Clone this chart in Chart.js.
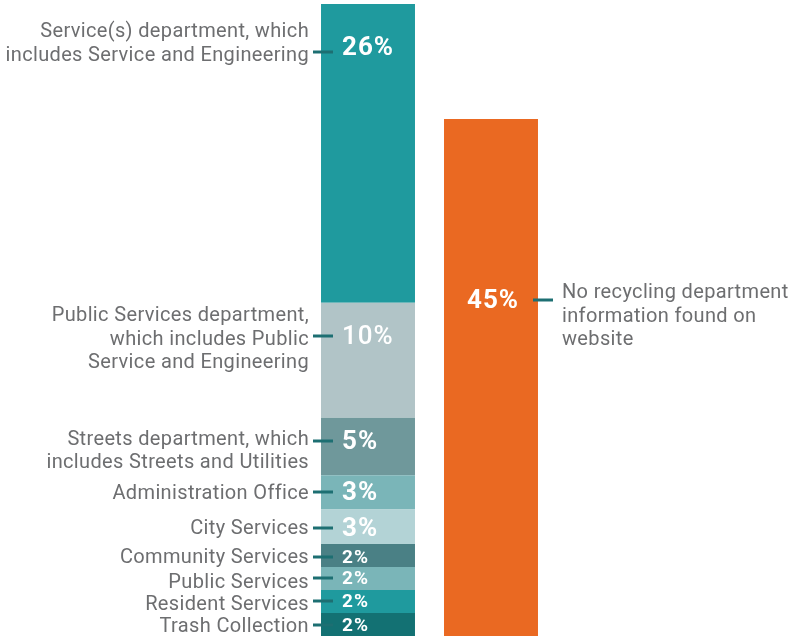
<!DOCTYPE html>
<html>
<head>
<meta charset="utf-8">
<script src="https://cdn.jsdelivr.net/npm/chart.js@4"></script>
<style>
  html, body { margin: 0; padding: 0; background: #fff; }
  #deptChart { display: block; }
</style>
</head>
<body>
<canvas id="deptChart" width="790" height="638"></canvas>
<script>
// Department names, bottom segment first (each entry is a list of text lines)
const departments = [
  ["Trash Collection"],
  ["Resident Services"],
  ["Public Services"],
  ["Community Services"],
  ["City Services"],
  ["Administration Office"],
  ["Streets department, which", "includes Streets and Utilities"],
  ["Public Services department,", "which includes Public", "Service and Engineering"],
  ["Service(s) department, which", "includes Service and Engineering"]
];
const departmentShares = [2, 2, 2, 2, 3, 3, 5, 10, 26];
const departmentColors = ["#137173", "#1f9a9e", "#7ab5b8", "#4a8085", "#b3d3d6", "#7ab5b8", "#6f989b", "#b1c4c7", "#1f9a9e"];

const noDepartment = ["No recycling department", "information found on", "website"];
const noDepartmentShare = 45;
const noDepartmentColor = "#ea6922";

const barGroups = ["department", "none"];

const TEXT_GREY = "#6d6e70";
const CONNECTOR = "#1d6f72";
const FONT = "Roboto, 'Liberation Sans', sans-serif";

const datasets = departmentShares.map(function (v, i) {
  return {
    label: departments[i].join(" "),
    data: [v, null],
    backgroundColor: departmentColors[i],
    lines: departments[i]
  };
});
datasets.push({
  label: noDepartment.join(" "),
  data: [null, noDepartmentShare],
  backgroundColor: noDepartmentColor,
  lines: noDepartment
});

// where each label's connector sits inside its segment (0 = top, 1 = bottom),
// and the offset of the first text baseline from that connector
const placement = [
  { at: 0.52, base: 6.5 },
  { at: 0.47, base: 9 },
  { at: 0.48, base: 10 },
  { at: 0.56, base: 6 },
  { at: 0.54, base: 5.5 },
  { at: 0.48, base: 6.5 },
  { at: 0.41, base: 3.5 },
  { at: 0.29, base: -15 },
  { at: 0.16, base: -15, pct: -5 },
  { at: 0.35, base: -2 }
];

const segmentLabels = {
  id: "segmentLabels",
  afterDatasetsDraw(chart) {
    const ctx = chart.ctx;
    chart.data.datasets.forEach(function (ds, i) {
      const meta = chart.getDatasetMeta(i);
      const idx = ds.data[0] === null ? 1 : 0;
      const el = meta.data[idx];
      const value = ds.data[idx];
      const top = Math.min(el.y, el.base);
      const bottom = Math.max(el.y, el.base);
      const left = el.x - el.width / 2;
      const right = el.x + el.width / 2;
      const p = placement[i];
      const cy = Math.round(top + p.at * (bottom - top));
      const small = value <= 2;

      ctx.save();
      // connector tick
      ctx.strokeStyle = CONNECTOR;
      ctx.lineWidth = 3;
      ctx.beginPath();
      if (idx === 0) {
        ctx.moveTo(left - 8, cy);
        ctx.lineTo(left + 12, cy);
      } else {
        ctx.moveTo(right - 5, cy);
        ctx.lineTo(right + 15, cy);
      }
      ctx.stroke();

      // value inside the bar
      ctx.fillStyle = "#ffffff";
      ctx.textBaseline = "middle";
      ctx.textAlign = "left";
      ctx.letterSpacing = "1px";
      ctx.font = (value === 10 ? "500 " : "bold ") + (small ? "19px " : "26px ") + FONT;
      if (idx === 0) {
        ctx.fillText(value + "%", left + 21, cy + (p.pct || 0) + 1);
      } else {
        ctx.fillText(value + "%", left + 23, cy + 1);
      }

      // category text beside the bar
      ctx.fillStyle = TEXT_GREY;
      ctx.textBaseline = "alphabetic";
      ctx.letterSpacing = "0.35px";
      ctx.font = "20px " + FONT;
      ctx.textAlign = idx === 0 ? "right" : "left";
      const tx = idx === 0 ? left - 12 : right + 24;
      ds.lines.forEach(function (line, k) {
        ctx.fillText(line, tx, cy + p.base + k * 23.7);
      });
      ctx.restore();
    });
  }
};

new Chart(document.getElementById("deptChart").getContext("2d"), {
  type: "bar",
  data: { labels: barGroups, datasets: datasets },
  options: {
    responsive: false,
    animation: false,
    layout: { padding: { left: 306.5, right: 237.5, top: 4, bottom: 2 } },
    datasets: {
      bar: { categoryPercentage: 1, barPercentage: 0.764, borderWidth: 0, skipNull: true }
    },
    scales: {
      x: { display: false, stacked: true },
      y: { display: false, stacked: true, min: 0, max: 55 }
    },
    plugins: {
      legend: { display: false },
      tooltip: { enabled: false }
    }
  },
  plugins: [segmentLabels]
});
</script>
</body>
</html>
